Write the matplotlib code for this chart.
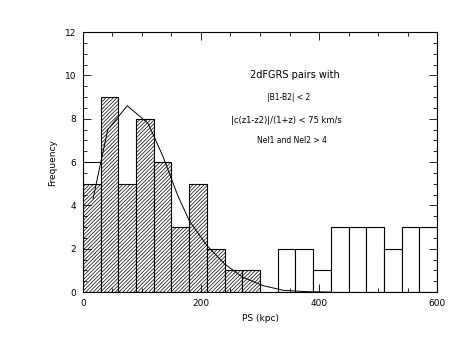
import matplotlib
matplotlib.use("Agg")
import matplotlib.pyplot as plt
import numpy as np

# histogram of projected separations (30 kpc bins)
bin_left = np.arange(0, 600, 30)
counts = [5, 9, 5, 8, 6, 3, 5, 2, 1, 1,
          0, 2, 2, 1, 3, 3, 3, 2, 3, 3]
n_hatched = 10  # bins below 300 kpc are hatched

# model curve
curve_x = [17, 42, 75, 110, 135, 160, 180, 210, 240, 270, 305, 340, 380, 420]
curve_y = [4.3, 7.5, 8.6, 7.8, 6.3, 4.5, 3.3, 2.15, 1.3, 0.7, 0.3, 0.08, 0.02, 0.0]

# short segment at the left edge
seg_x = [0, 30]
seg_y = [6, 6]

plt.rcParams['hatch.linewidth'] = 0.5
plt.rcParams['font.size'] = 6.5

fig = plt.figure(figsize=(4.51, 3.49), dpi=100)
ax = fig.add_axes([0.184, 0.163, 0.785, 0.745])

for i, (x0, c) in enumerate(zip(bin_left, counts)):
    if c == 0:
        continue
    if i < n_hatched:
        ax.bar(x0, c, width=30, align='edge', facecolor='white',
               edgecolor='black', hatch='/////////', linewidth=0.8)
    else:
        ax.bar(x0, c, width=30, align='edge', facecolor='white',
               edgecolor='black', linewidth=0.8)

ax.plot(curve_x, curve_y, color='black', linewidth=0.7)
ax.plot(seg_x, seg_y, color='black', linewidth=0.7)

ax.set_xlim(0, 600)
ax.set_ylim(0, 12)
ax.set_xticks([0, 200, 400, 600])
ax.set_xticks(np.arange(0, 601, 50), minor=True)
ax.set_yticks([0, 2, 4, 6, 8, 10, 12])
ax.set_yticks(np.arange(0, 12.1, 0.5), minor=True)
ax.tick_params(which='both', direction='in', top=True, right=True, width=0.6)
ax.tick_params(which='major', length=6, pad=5)
ax.tick_params(which='minor', length=3)
for s in ax.spines.values():
    s.set_linewidth(0.8)

ax.set_xlabel("PS (kpc)", fontsize=6.5)
ax.set_ylabel("Frequency", fontsize=6.5, labelpad=5)

ax.text(359, 10.0, "2dFGRS pairs with", ha='center', va='center', fontsize=7)
ax.text(348, 8.96, "|B1-B2| < 2", ha='center', va='center', fontsize=5.5)
ax.text(345, 7.94, "|c(z1-z2)|/(1+z) < 75 km/s", ha='center', va='center', fontsize=6)
ax.text(354, 7.02, "Nel1 and Nel2 > 4", ha='center', va='center', fontsize=5.5)

fig.savefig("out.png", dpi=100)
